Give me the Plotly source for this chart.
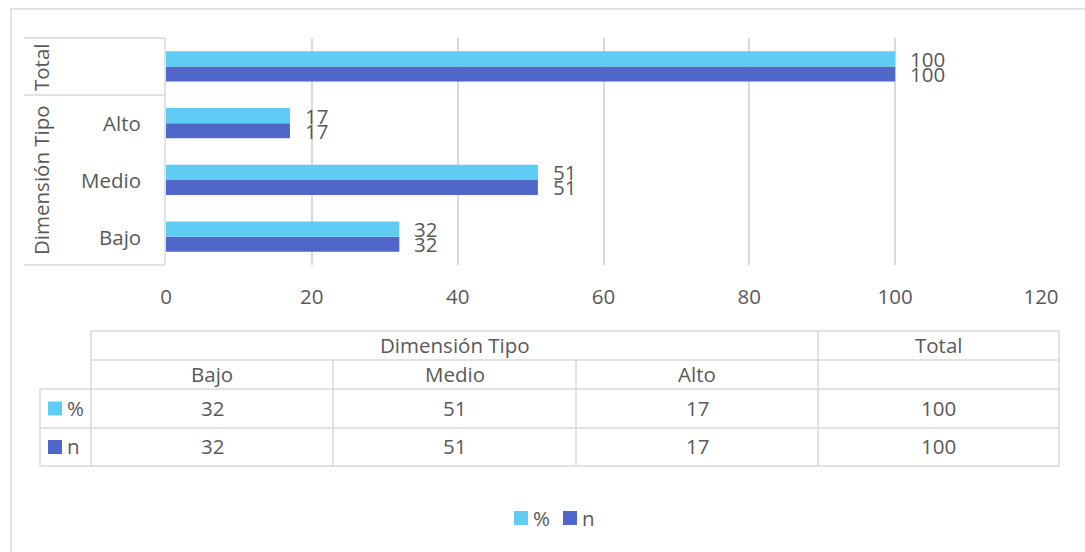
import plotly.graph_objects as go

# Categories (bottom to top on the chart) and series values
categories = ["Bajo", "Medio", "Alto", "Total"]
group_labels = ["Dimensión Tipo", "Dimensión Tipo", "Dimensión Tipo", "Total"]
pct_values = [32, 51, 17, 100]
n_values = [32, 51, 17, 100]
x_ticks = [0, 20, 40, 60, 80, 100, 120]

# Table rows below the chart
table_columns = ["Bajo", "Medio", "Alto", ""]
table_groups = ["Dimensión Tipo", "Total"]
series_names = ["%", "n"]

COLOR_PCT = "#5ECCF3"
COLOR_N = "#4E67C8"
TEXT = "#595959"
LINE = "#D9D9D9"
FONT = "Open Sans"
FS = 20.5

W, H = 1085, 552
L, R, T, B = 166, 1041, 38, 265  # plot area in pixels


def xp(px):
    return (px - L) / (R - L)


def yp(py):
    return (B - py) / (B - T)


fig = go.Figure()
fig.add_trace(go.Bar(y=categories, x=n_values, orientation="h", name=series_names[1],
                     marker=dict(color=COLOR_N, line=dict(width=0)), showlegend=False))
fig.add_trace(go.Bar(y=categories, x=pct_values, orientation="h", name=series_names[0],
                     marker=dict(color=COLOR_PCT, line=dict(width=0)), showlegend=False))

shapes = []
annotations = []


def hline(y, x0, x1):
    shapes.append(dict(type="line", xref="paper", yref="paper",
                       x0=xp(x0), x1=xp(x1), y0=yp(y), y1=yp(y),
                       line=dict(color=LINE, width=1.5)))


def vline(x, y0, y1):
    shapes.append(dict(type="line", xref="paper", yref="paper",
                       x0=xp(x), x1=xp(x), y0=yp(y0), y1=yp(y1),
                       line=dict(color=LINE, width=1.5)))


def text(x, y, s, anchor="center", angle=0):
    annotations.append(dict(xref="paper", yref="paper", x=xp(x), y=yp(y),
                            text=s, showarrow=False, xanchor=anchor,
                            yanchor="middle", textangle=angle,
                            font=dict(family=FONT, size=FS, color=TEXT)))


def swatch(x, y, color, size=14):
    shapes.append(dict(type="rect", xref="paper", yref="paper",
                       x0=xp(x), x1=xp(x + size),
                       y0=yp(y - size / 2), y1=yp(y + size / 2),
                       fillcolor=color, line=dict(width=0)))


# Outer chart frame
shapes.append(dict(type="rect", xref="paper", yref="paper",
                   x0=xp(11), x1=xp(1100), y0=yp(9), y1=yp(570),
                   line=dict(color=LINE, width=1.5), layer="below"))

# Value labels beside each bar
for cat, pv, nv in zip(categories, pct_values, n_values):
    annotations.append(dict(x=pv, y=cat, xref="x", yref="y", text=str(pv),
                            showarrow=False, xanchor="left", yanchor="middle",
                            xshift=13, yshift=7.5,
                            font=dict(family=FONT, size=FS, color=TEXT)))
    annotations.append(dict(x=nv, y=cat, xref="x", yref="y", text=str(nv),
                            showarrow=False, xanchor="left", yanchor="middle",
                            xshift=13, yshift=-7.5,
                            font=dict(family=FONT, size=FS, color=TEXT)))

# Two-level category axis on the left
vline(165, 38, 265)
hline(38, 24, 165)
hline(95, 24, 165)
hline(265, 24, 165)
row_h = (B - T) / len(categories)
for i, cat in enumerate(categories):
    if cat != "Total":
        cy = B - (i + 0.5) * row_h
        text(143, cy, cat, anchor="right")
text(41, 67, group_labels[3], angle=-90)
text(41, 180, group_labels[0], angle=-90)

# Data table
col_x = [91, 333, 576, 818, 1059]
row_y = [331, 360, 389, 428, 466]
hline(row_y[0], col_x[0], col_x[-1])
hline(row_y[1], col_x[0], col_x[-1])
for y in row_y[2:]:
    hline(y, 40, col_x[-1])
vline(40, row_y[2], row_y[-1])
vline(col_x[0], row_y[0], row_y[-1])
vline(col_x[3], row_y[0], row_y[-1])
vline(col_x[4], row_y[0], row_y[-1])
vline(col_x[1], row_y[1], row_y[-1])
vline(col_x[2], row_y[1], row_y[-1])

text((col_x[0] + col_x[3]) / 2, (row_y[0] + row_y[1]) / 2 - 1, table_groups[0])
text((col_x[3] + col_x[4]) / 2, (row_y[0] + row_y[1]) / 2 - 1, table_groups[1])
for j, c in enumerate(table_columns):
    if c:
        text((col_x[j] + col_x[j + 1]) / 2, (row_y[1] + row_y[2]) / 2 - 1, c)

for r, (name, vals, col) in enumerate([(series_names[0], pct_values, COLOR_PCT),
                                        (series_names[1], n_values, COLOR_N)]):
    y0, y1 = row_y[2 + r], row_y[3 + r]
    cy = (y0 + y1) / 2
    swatch(48, cy, col)
    text(65, cy - 1, name, anchor="left")
    for j in range(len(categories)):
        text((col_x[j] + col_x[j + 1]) / 2, cy - 1, str(vals[j]))

# Legend at the bottom
swatch(514, 518, COLOR_PCT)
text(531, 518, series_names[0], anchor="left")
swatch(563, 518, COLOR_N)
text(580, 518, series_names[1], anchor="left")

fig.update_layout(
    width=W, height=H, autosize=False,
    margin=dict(l=L, r=W - R, t=T, b=H - B, pad=0),
    paper_bgcolor="white", plot_bgcolor="white",
    barmode="group", bargap=0.47, bargroupgap=0,
    font=dict(family=FONT, size=FS, color=TEXT),
    xaxis=dict(range=[0, 120], tickvals=x_ticks, showgrid=True,
               gridcolor=LINE, gridwidth=1.5, zeroline=False, showline=False,
               ticks="", ticklabelstandoff=17,
               tickfont=dict(family=FONT, size=FS, color=TEXT)),
    yaxis=dict(categoryorder="array", categoryarray=categories,
               range=[-0.5, 3.5], showticklabels=False, showgrid=False,
               zeroline=False, showline=False, ticks=""),
    showlegend=False,
    shapes=shapes, annotations=annotations,
)

fig.write_html("out.html")
